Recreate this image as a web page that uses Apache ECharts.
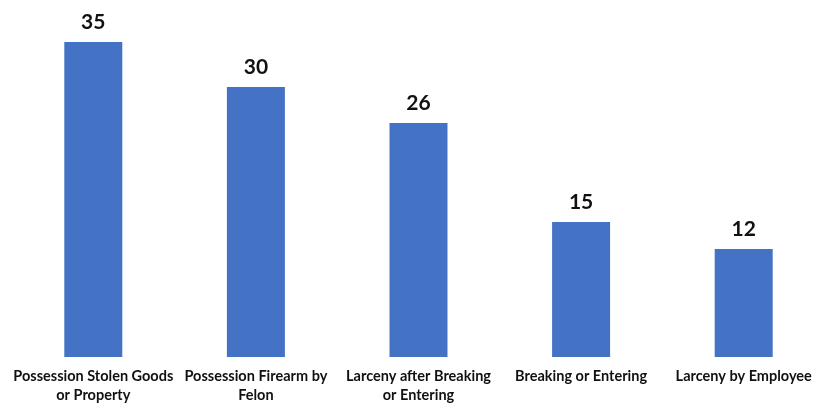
<!DOCTYPE html>
<html><head><meta charset="utf-8">
<script src="https://cdn.jsdelivr.net/npm/echarts@6/dist/echarts.min.js"></script>
<style>html,body{margin:0;padding:0;background:#fff}#c{width:829px;height:405px}</style>
</head><body><div id="c"></div>
<script>
const categories = ["Possession Stolen Goods\nor Property", "Possession Firearm by\nFelon", "Larceny after Breaking\nor Entering", "Breaking or Entering", "Larceny by Employee"];
const values = [35, 30, 26, 15, 12];
const chart = echarts.init(document.getElementById('c'));
chart.setOption({
  animation: false,
  grid: {left: 12, right: 4, top: 42, bottom: 42},
  xAxis: {
    type: 'category', data: categories,
    axisLine: {show: false}, axisTick: {show: false},
    axisLabel: {interval: 0, color: '#111', fontFamily: 'Lato', fontWeight: 'bold', fontSize: 14.5, lineHeight: 19, margin: 10}
  },
  yAxis: {type: 'value', min: 0, max: 35, show: false, splitLine: {show: false}},
  series: [{
    type: 'bar', data: values, barWidth: 58,
    itemStyle: {color: '#4472C4'},
    label: {show: true, position: 'top', distance: 9, color: '#111', fontFamily: 'Lato', fontWeight: 'bold', fontSize: 21}
  }]
});
</script></body></html>
